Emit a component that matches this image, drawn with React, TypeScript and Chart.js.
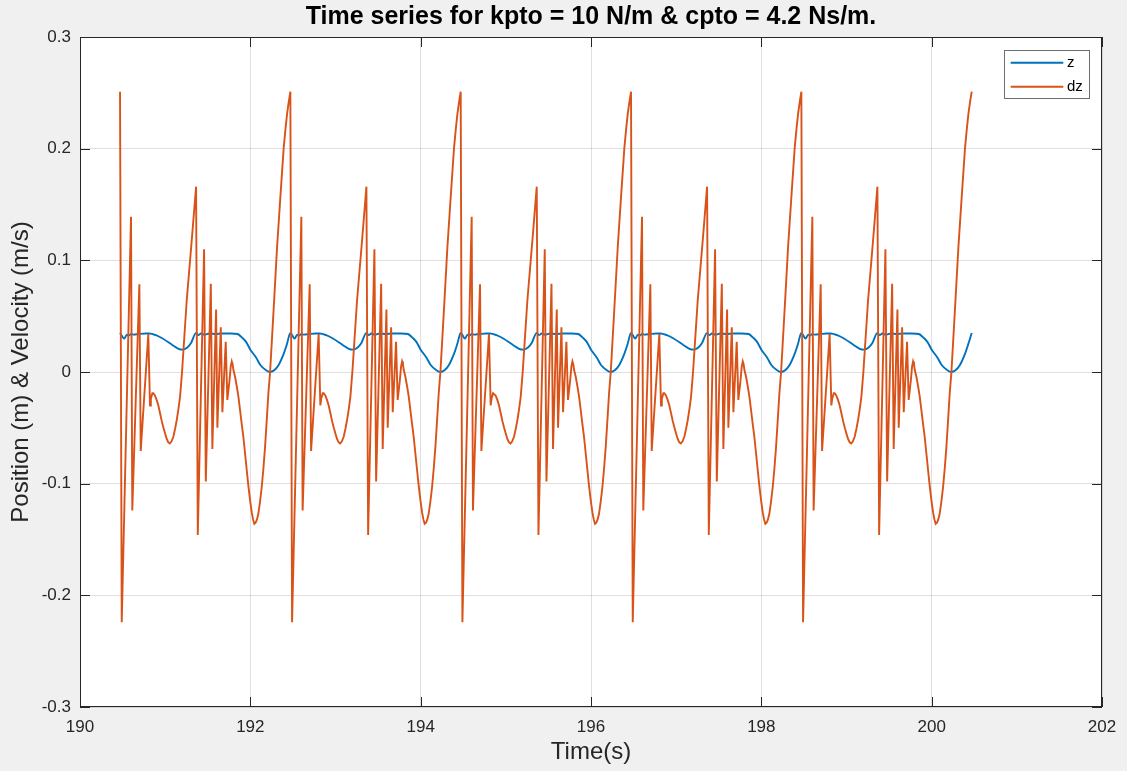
import React, { useEffect, useRef } from "react";
import { Chart, registerables } from "chart.js";

Chart.register(...registerables);

// ---------- data ----------
const titleText = "Time series for kpto = 10 N/m & cpto = 4.2 Ns/m.";
const xAxisLabel = "Time(s)";
const yAxisLabel = "Position (m) & Velocity (m/s)";

const xTickValues = [190, 192, 194, 196, 198, 200, 202];
const xTickLabels = ["190", "192", "194", "196", "198", "200", "202"];
const yTickValues = [-0.3, -0.2, -0.1, 0, 0.1, 0.2, 0.3];
const yTickLabels = ["-0.3", "-0.2", "-0.1", "0", "0.1", "0.2", "0.3"];

// start time of each repeated cycle (s)
const cycleStarts = [190.47, 192.47, 194.47, 196.47, 198.47];

// dz (velocity) over one cycle: time since cycle start (s) and value (m/s)
const dzPhase = [
  0, 0.02, 0.129, 0.144, 0.227, 0.243, 0.332, 0.352, 0.362, 0.38,
  0.391, 0.41, 0.43, 0.45, 0.47, 0.49, 0.51, 0.529, 0.548, 0.567,
  0.585, 0.605, 0.626, 0.646, 0.666, 0.686, 0.705, 0.728, 0.783, 0.842,
  0.893, 0.913, 0.987, 1.007, 1.066, 1.084, 1.128, 1.143, 1.183, 1.202,
  1.241, 1.26, 1.285, 1.3, 1.312, 1.322, 1.331, 1.35, 1.371, 1.39,
  1.409, 1.428, 1.448, 1.468, 1.488, 1.507, 1.527, 1.547, 1.562, 1.577,
  1.592, 1.608, 1.624, 1.644, 1.664, 1.684, 1.703, 1.722, 1.742, 1.762,
  1.805, 1.844, 1.883, 1.922, 1.942, 1.961, 1.981, 2.0,
];
const dzValues = [
  0.251, -0.224, 0.139, -0.124, 0.0785, -0.0707, 0.034, -0.03, -0.024, -0.019,
  -0.019, -0.021, -0.025, -0.03, -0.037, -0.044, -0.05, -0.055, -0.06, -0.063,
  -0.064, -0.062, -0.058, -0.051, -0.043, -0.033, -0.022, 0, 0.064, 0.118,
  0.166, -0.146, 0.11, -0.098, 0.079, -0.069, 0.056, -0.05, 0.04, -0.036,
  0.027, -0.025, -0.008, 0.005, 0.0095, 0.007, 0.002, -0.004, -0.013, -0.022,
  -0.034, -0.046, -0.058, -0.073, -0.088, -0.102, -0.115, -0.126, -0.132, -0.136,
  -0.135, -0.132, -0.127, -0.116, -0.103, -0.086, -0.067, -0.044, -0.019, 0,
  0.058, 0.112, 0.157, 0.201, 0.217, 0.231, 0.242, 0.251,
];

// z (position) over one cycle
const zPhase = [
  0, 0.05, 0.08, 0.1, 0.13, 0.16, 0.22, 0.3, 0.344, 0.42,
  0.5, 0.618, 0.68, 0.735, 0.79, 0.834, 0.893, 0.92, 0.95, 0.99,
  1.05, 1.12, 1.2, 1.3, 1.38, 1.43, 1.48, 1.53, 1.597, 1.65,
  1.715, 1.76, 1.81, 1.86, 1.92, 1.96, 2.0,
];
const zValues = [
  0.035, 0.03, 0.0335, 0.0325, 0.034, 0.0335, 0.034, 0.0345, 0.0345, 0.033,
  0.03, 0.024, 0.021, 0.02, 0.022, 0.026, 0.035, 0.033, 0.0345, 0.0335,
  0.0345, 0.034, 0.0345, 0.0345, 0.034, 0.031, 0.027, 0.02, 0.013, 0.006,
  0.0015, 0, 0.0015, 0.006, 0.016, 0.025, 0.035,
];

const seriesNames = ["z", "dz"];
const seriesColors = ["#0072BD", "#D95319"];

// ---------- build point tables ----------
function buildSeries(phase: number[], values: number[]) {
  const pts: { x: number; y: number }[] = [];
  cycleStarts.forEach((s, ci) => {
    phase.forEach((p, i) => {
      if (ci > 0 && i === 0) return;
      pts.push({ x: +(s + p).toFixed(4), y: values[i] });
    });
  });
  return pts;
}

const FONT = '"Liberation Sans", Arial, Helvetica, sans-serif';
const AXIS_COLOR = "#262626";

const decorPlugin = {
  id: "decor",
  beforeDraw(chart: any) {
    const { ctx, chartArea: a } = chart;
    ctx.save();
    ctx.fillStyle = "#ffffff";
    ctx.fillRect(a.left, a.top, a.right - a.left, a.bottom - a.top);
    ctx.restore();
  },
  afterDraw(chart: any) {
    const { ctx, chartArea: a, scales } = chart;
    ctx.save();
    ctx.strokeStyle = AXIS_COLOR;
    ctx.lineWidth = 1;
    ctx.strokeRect(a.left + 0.5, a.top + 0.5, a.right - a.left - 1, a.bottom - a.top - 1);
    const tl = 10;
    ctx.beginPath();
    xTickValues.forEach((v) => {
      const px = Math.round(scales.x.getPixelForValue(v)) + 0.5;
      ctx.moveTo(px, a.bottom);
      ctx.lineTo(px, a.bottom - tl);
      ctx.moveTo(px, a.top);
      ctx.lineTo(px, a.top + tl);
    });
    yTickValues.forEach((v) => {
      const py = Math.round(scales.y.getPixelForValue(v)) + 0.5;
      ctx.moveTo(a.left, py);
      ctx.lineTo(a.left + tl, py);
      ctx.moveTo(a.right, py);
      ctx.lineTo(a.right - tl, py);
    });
    ctx.stroke();

    // title
    ctx.fillStyle = "#000000";
    ctx.font = "bold 25px " + FONT;
    ctx.textAlign = "center";
    ctx.textBaseline = "middle";
    ctx.fillText(titleText, (a.left + a.right) / 2, 17);

    // legend
    const lx = 1004.5, ly = 50.5, lw = 85, lh = 48;
    ctx.fillStyle = "#ffffff";
    ctx.fillRect(lx, ly, lw, lh);
    ctx.strokeStyle = "#6e6e6e";
    ctx.lineWidth = 1;
    ctx.strokeRect(lx, ly, lw, lh);
    ctx.font = "15px " + FONT;
    ctx.textAlign = "left";
    ctx.textBaseline = "middle";
    seriesNames.forEach((name, i) => {
      const y = 62.7 + i * 24;
      ctx.strokeStyle = seriesColors[i];
      ctx.lineWidth = 2;
      ctx.beginPath();
      ctx.moveTo(1010.7, y);
      ctx.lineTo(1063.3, y);
      ctx.stroke();
      ctx.fillStyle = "#000000";
      ctx.fillText(name, 1067, y + 0.5);
    });
    ctx.restore();
  },
};

export default function App() {
  const ref = useRef<HTMLCanvasElement>(null);
  useEffect(() => {
    if (!ref.current) return;
    const zData = buildSeries(zPhase, zValues);
    const dzData = buildSeries(dzPhase, dzValues);
    const chart = new Chart(ref.current, {
      type: "line",
      data: {
        datasets: [
          {
            label: seriesNames[0],
            data: zData,
            borderColor: seriesColors[0],
            borderWidth: 1.9,
            pointRadius: 0,
            cubicInterpolationMode: "monotone",
            fill: false,
            order: 1,
          },
          {
            label: seriesNames[1],
            data: dzData,
            borderColor: seriesColors[1],
            borderWidth: 1.9,
            pointRadius: 0,
            tension: 0,
            fill: false,
            order: 0,
          },
        ],
      },
      options: {
        responsive: false,
        animation: false,
        events: [],
        layout: { padding: { top: 37, right: 25, left: 0, bottom: 0 } },
        plugins: {
          legend: { display: false },
          title: { display: false },
          tooltip: { enabled: false },
        },
        scales: {
          x: {
            type: "linear",
            min: 190,
            max: 202,
            afterBuildTicks: (s: any) => {
              s.ticks = xTickValues.map((v) => ({ value: v }));
            },
            afterFit: (s: any) => {
              s.height = 64;
            },
            ticks: {
              callback: (_v: any, i: number) => xTickLabels[i],
              font: { family: FONT, size: 17 },
              color: AXIS_COLOR,
              padding: 10,
              maxRotation: 0,
            },
            grid: {
              color: "rgba(38,38,38,0.15)",
              lineWidth: 1,
              drawTicks: false,
            },
            border: { display: false },
            title: {
              display: true,
              text: xAxisLabel,
              font: { family: FONT, size: 24 },
              color: AXIS_COLOR,
              padding: { top: 0, bottom: 4 },
            },
          },
          y: {
            type: "linear",
            min: -0.3,
            max: 0.3,
            afterBuildTicks: (s: any) => {
              s.ticks = yTickValues.map((v) => ({ value: v }));
            },
            afterFit: (s: any) => {
              s.width = 80;
            },
            ticks: {
              callback: (_v: any, i: number) => yTickLabels[i],
              font: { family: FONT, size: 17 },
              color: AXIS_COLOR,
              padding: 9,
            },
            grid: {
              color: "rgba(38,38,38,0.15)",
              lineWidth: 1,
              drawTicks: false,
            },
            border: { display: false },
            title: {
              display: true,
              text: yAxisLabel,
              font: { family: FONT, size: 24 },
              color: AXIS_COLOR,
              padding: { top: 7, bottom: 0 },
            },
          },
        },
      },
      plugins: [decorPlugin],
    } as any);
    return () => chart.destroy();
  }, []);

  return (
    <div
      style={{
        position: "fixed",
        left: 0,
        top: 0,
        width: 1127,
        height: 771,
        background: "#f0f0f0",
      }}
    >
      <canvas ref={ref} width={1127} height={771} style={{ display: "block", width: 1127, height: 771 }} />
    </div>
  );
}
